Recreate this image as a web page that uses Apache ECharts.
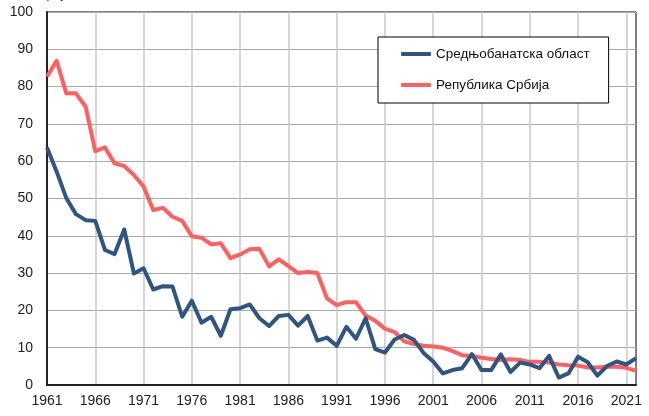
<!DOCTYPE html>
<html>
<head>
<meta charset="utf-8">
<script src="https://cdn.jsdelivr.net/npm/echarts@6/dist/echarts.min.js"></script>
<style>
  html, body { margin: 0; padding: 0; background: #fff; }
  #chart { width: 649px; height: 416px; }
</style>
</head>
<body>
<div id="chart"></div>
<script>
// године 1961-2022
const years = [];
for (let y = 1961; y <= 2022; y++) years.push(String(y));

// Средњобанатска област
const banatValues = [
  63.7, 57.2, 50.1, 45.8, 44.2, 44.0, 36.2, 35.1, 41.7, 29.9,
  31.3, 25.6, 26.5, 26.4, 18.3, 22.6, 16.7, 18.3, 13.2, 20.3,
  20.6, 21.6, 17.9, 15.8, 18.5, 18.8, 15.9, 18.5, 11.9, 12.7,
  10.5, 15.6, 12.4, 17.9, 9.6, 8.7, 12.2, 13.4, 12.1, 8.6,
  6.3, 3.1, 4.0, 4.5, 8.3, 4.0, 4.0, 8.2, 3.5, 6.0,
  5.5, 4.5, 7.8, 2.0, 3.1, 7.6, 6.1, 2.5, 5.1, 6.3,
  5.5, 7.2
];

// Република Србија
const serbiaValues = [
  82.7, 86.9, 78.2, 78.2, 74.6, 62.7, 63.7, 59.4, 58.7, 56.3,
  53.2, 46.9, 47.5, 45.1, 44.0, 39.9, 39.5, 37.7, 38.0, 34.0,
  35.0, 36.4, 36.5, 31.8, 33.7, 31.9, 30.0, 30.3, 30.0, 23.2,
  21.4, 22.2, 22.2, 18.6, 17.2, 15.1, 14.2, 11.7, 11.0, 10.5,
  10.3, 10.0, 9.1, 8.0, 7.8, 7.3, 7.0, 6.7, 6.9, 6.7,
  6.2, 6.2, 6.0, 5.5, 5.3, 5.2, 4.7, 4.7, 4.9, 4.9,
  4.6, 3.8
];

const seriesNames = ['Средњобанатска област', 'Република Србија'];
const seriesColors = ['#2f5583', '#ff5f5f'];

const chart = echarts.init(document.getElementById('chart'));

const option = {
  animation: false,
  textStyle: { fontFamily: 'Liberation Sans, Arial, sans-serif' },
  graphic: [
    {
      type: 'text',
      left: 38,
      top: -12,
      style: { text: 'Број', fontSize: 13, fill: '#222', fontFamily: 'Liberation Sans' }
    }
  ],
  grid: {
    left: 47,
    right: 13,
    top: 12,
    bottom: 31,
    show: true,
    borderColor: '#000',
    borderWidth: 1
  },
  legend: {
    orient: 'vertical',
    left: 378,
    top: 37,
    data: seriesNames,
    icon: 'roundRect',
    itemWidth: 30,
    itemHeight: 4,
    itemGap: 17,
    padding: [10, 19, 11, 23],
    borderColor: '#000',
    borderWidth: 1,
    backgroundColor: '#fff',
    textStyle: { fontSize: 13.5, color: '#111', fontFamily: 'Liberation Sans' }
  },
  xAxis: {
    type: 'category',
    data: years,
    boundaryGap: false,
    axisLine: { lineStyle: { color: '#222', width: 2 } },
    axisTick: { show: false },
    axisLabel: {
      interval: 4,
      fontSize: 14,
      color: '#222',
      margin: 9
    },
    splitLine: {
      show: true,
      interval: 4,
      lineStyle: { color: '#c8c8c8', width: 1.5 }
    }
  },
  yAxis: {
    type: 'value',
    min: 0,
    max: 100,
    interval: 10,
    axisLine: { show: true, lineStyle: { color: '#222', width: 2 } },
    axisTick: { show: false },
    axisLabel: { fontSize: 14, color: '#222', margin: 14 },
    splitLine: { lineStyle: { color: '#aaaaaa', width: 1 } }
  },
  series: [
    {
      name: seriesNames[0],
      type: 'line',
      data: banatValues,
      symbol: 'none',
      lineStyle: { color: seriesColors[0], width: 4, join: 'round' },
      itemStyle: { color: seriesColors[0] },
      z: 3
    },
    {
      name: seriesNames[1],
      type: 'line',
      data: serbiaValues,
      symbol: 'none',
      lineStyle: { color: seriesColors[1], width: 4, join: 'round' },
      itemStyle: { color: seriesColors[1] },
      z: 2
    }
  ]
};

chart.setOption(option);
window.addEventListener('resize', () => chart.resize());
</script>
</body>
</html>
